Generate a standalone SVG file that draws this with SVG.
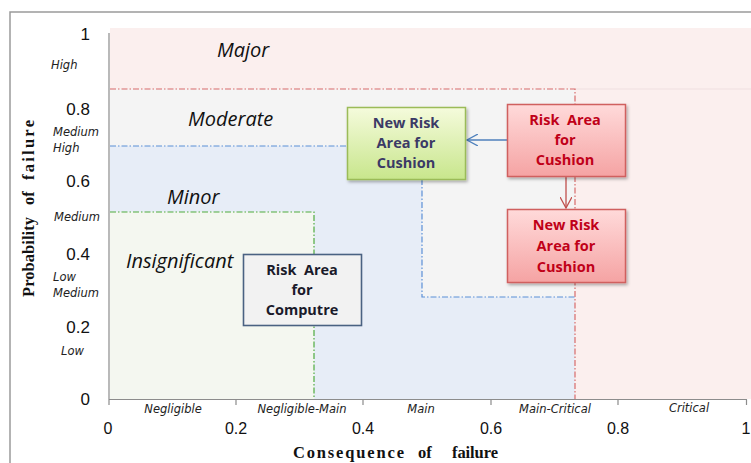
<svg xmlns="http://www.w3.org/2000/svg" width="751" height="463" viewBox="0 0 751 463">
<defs>
<style>
.zone{font-family:"Open Sans","DejaVu Sans",sans-serif;font-style:italic;font-size:20px;fill:#111;}
.lvl{font-family:"DejaVu Sans",sans-serif;font-style:italic;font-size:11.5px;fill:#222;}
.num{font-family:"Liberation Sans",Arial,sans-serif;font-size:17px;fill:#111;}
.xnum{font-family:"Liberation Sans",Arial,sans-serif;font-size:16px;fill:#111;}
.cat{font-family:"DejaVu Sans",sans-serif;font-style:italic;font-size:11.5px;fill:#222;}
.title{font-family:"Liberation Serif","Times New Roman",serif;font-weight:bold;font-size:16.5px;fill:#111;}
.bt{font-family:"Open Sans","Liberation Sans",sans-serif;font-weight:bold;font-size:14.5px;text-anchor:middle;}
.dd{fill:none;stroke-width:1.2;stroke-dasharray:6 2 1.5 2;}
.axis{stroke:#8c8c8c;stroke-width:1.2;fill:none;}
</style>
<linearGradient id="gGreen" x1="0" y1="0" x2="0" y2="1">
<stop offset="0" stop-color="#f5fbdc"/>
<stop offset="1" stop-color="#c8e68c"/>
</linearGradient>
<linearGradient id="gRed" x1="0" y1="0" x2="0" y2="1">
<stop offset="0" stop-color="#ffdada"/>
<stop offset="1" stop-color="#f5a3a3"/>
</linearGradient>
<filter id="sh" x="-10%" y="-10%" width="125%" height="130%">
<feDropShadow dx="1.5" dy="2" stdDeviation="1.5" flood-color="#000" flood-opacity="0.3"/>
</filter>
<marker id="aBlue" viewBox="0 0 12 12" refX="11" refY="6" markerWidth="12" markerHeight="12" markerUnits="userSpaceOnUse" orient="auto">
<path d="M0,0 L11,6 L0,12" fill="none" stroke="#4f81bd" stroke-width="1.3"/>
</marker>
<marker id="aRed" viewBox="0 0 12 12" refX="11" refY="6" markerWidth="12" markerHeight="12" markerUnits="userSpaceOnUse" orient="auto">
<path d="M0,0 L11,6 L0,12" fill="none" stroke="#c0504d" stroke-width="1.3"/>
</marker>
</defs>

<rect width="751" height="463" fill="#ffffff"/>
<!-- outer frame -->
<path d="M10,463 V12 H751" fill="none" stroke="#9a9a9a" stroke-width="1.5"/>

<!-- zones -->
<g id="zones">
<rect x="110" y="28" width="641" height="371" fill="#fbefee"/>
<line x1="575" y1="89" x2="751" y2="89" stroke="#f0e0df" stroke-width="1.2"/>
<rect x="110" y="89" width="465" height="310" fill="#f4f4f4"/>
<path d="M110,146 H422 V297 H575 V399 H110 Z" fill="#e7edf7"/>
<path d="M110,212 H314 V399 H110 Z" fill="#f4f7f0"/>
<path class="dd" d="M110,89 H575 V399" stroke="#d86b6b"/>
<path class="dd" d="M110,146 H422 V297 H575" stroke="#5b8fd6"/>
<path class="dd" d="M110,212 H314 V399" stroke="#4fab3f"/>
</g>

<!-- axes -->
<g id="axes">
<path class="axis" d="M109,33 V405 M109,399.5 H747 M236,399.5 V405 M363,399.5 V405 M491,399.5 V405 M618,399.5 V405 M746.5,399.5 V405"/>
<g class="num" text-anchor="end">
<text x="90" y="40">1</text>
<text x="90" y="115">0.8</text>
<text x="90" y="187">0.6</text>
<text x="90" y="260">0.4</text>
<text x="90" y="333">0.2</text>
<text x="90" y="405">0</text>
</g>
<g class="xnum" text-anchor="middle">
<text x="108" y="434">0</text>
<text x="236" y="434">0.2</text>
<text x="363" y="434">0.4</text>
<text x="491" y="434">0.6</text>
<text x="618" y="434">0.8</text>
<text x="746" y="434">1</text>
</g>
<g class="lvl">
<text x="51" y="69">High</text>
<text x="53" y="136">Medium</text>
<text x="53" y="152">High</text>
<text x="54" y="221">Medium</text>
<text x="53" y="281">Low</text>
<text x="53" y="297">Medium</text>
<text x="61" y="355">Low</text>
</g>
<g class="cat" text-anchor="middle">
<text x="173" y="413">Negligible</text>
<text x="302" y="413">Negligible-Main</text>
<text x="421" y="413">Main</text>
<text x="555" y="413">Main-Critical</text>
<text x="689" y="412">Critical</text>
</g>
<text class="title" y="458"><tspan x="293" textLength="111" lengthAdjust="spacing">Consequence</tspan><tspan x="418">of</tspan><tspan x="452" textLength="46" lengthAdjust="spacing">failure</tspan></text>
<text class="title" transform="translate(34,297) rotate(-90)"><tspan x="0" textLength="80" lengthAdjust="spacing">Probability</tspan><tspan x="92">of</tspan><tspan x="117" textLength="60" lengthAdjust="spacing">failure</tspan></text>
</g>

<!-- zone labels -->
<g id="zone-labels" class="zone">
<text x="217" y="57">Major</text>
<text x="188" y="126">Moderate</text>
<text x="167" y="204">Minor</text>
<text x="126" y="268">Insignificant</text>
</g>

<!-- connectors -->
<g id="connectors">
<line x1="507" y1="140" x2="467" y2="140" stroke="#4f81bd" stroke-width="1.3" marker-end="url(#aBlue)"/>
<line x1="566" y1="177" x2="566" y2="208" stroke="#c0504d" stroke-width="1.3" marker-end="url(#aRed)"/>
</g>

<!-- nodes -->
<g id="new-risk-cushion-green">
<rect x="347.5" y="107.5" width="118" height="72" fill="url(#gGreen)" stroke="#9bbb59" stroke-width="1.5" filter="url(#sh)"/>
<text class="bt" fill="#3b3a66"><tspan x="406" y="128">New Risk</tspan><tspan x="406" y="148">Area for</tspan><tspan x="406" y="168">Cushion</tspan></text>
</g>
<g id="risk-cushion">
<rect x="507.5" y="104.5" width="118" height="72" fill="url(#gRed)" stroke="#d0605e" stroke-width="1.5" filter="url(#sh)"/>
<text class="bt" fill="#c00018" xml:space="preserve"><tspan x="565" y="125">Risk  Area</tspan><tspan x="565" y="145">for</tspan><tspan x="565" y="165">Cushion</tspan></text>
</g>
<g id="new-risk-cushion-red">
<rect x="507.5" y="209.5" width="118" height="73" fill="url(#gRed)" stroke="#d0605e" stroke-width="1.5" filter="url(#sh)"/>
<text class="bt" fill="#c00018"><tspan x="566" y="230">New Risk</tspan><tspan x="566" y="251">Area for</tspan><tspan x="566" y="272">Cushion</tspan></text>
</g>
<g id="risk-computre">
<rect x="243.5" y="254.5" width="118" height="71" fill="#f2f2f2" stroke="#4a6282" stroke-width="1.6"/>
<text class="bt" fill="#1a1a2a" xml:space="preserve"><tspan x="302" y="275">Risk  Area</tspan><tspan x="302" y="295">for</tspan><tspan x="302" y="315">Computre</tspan></text>
</g>
</svg>
